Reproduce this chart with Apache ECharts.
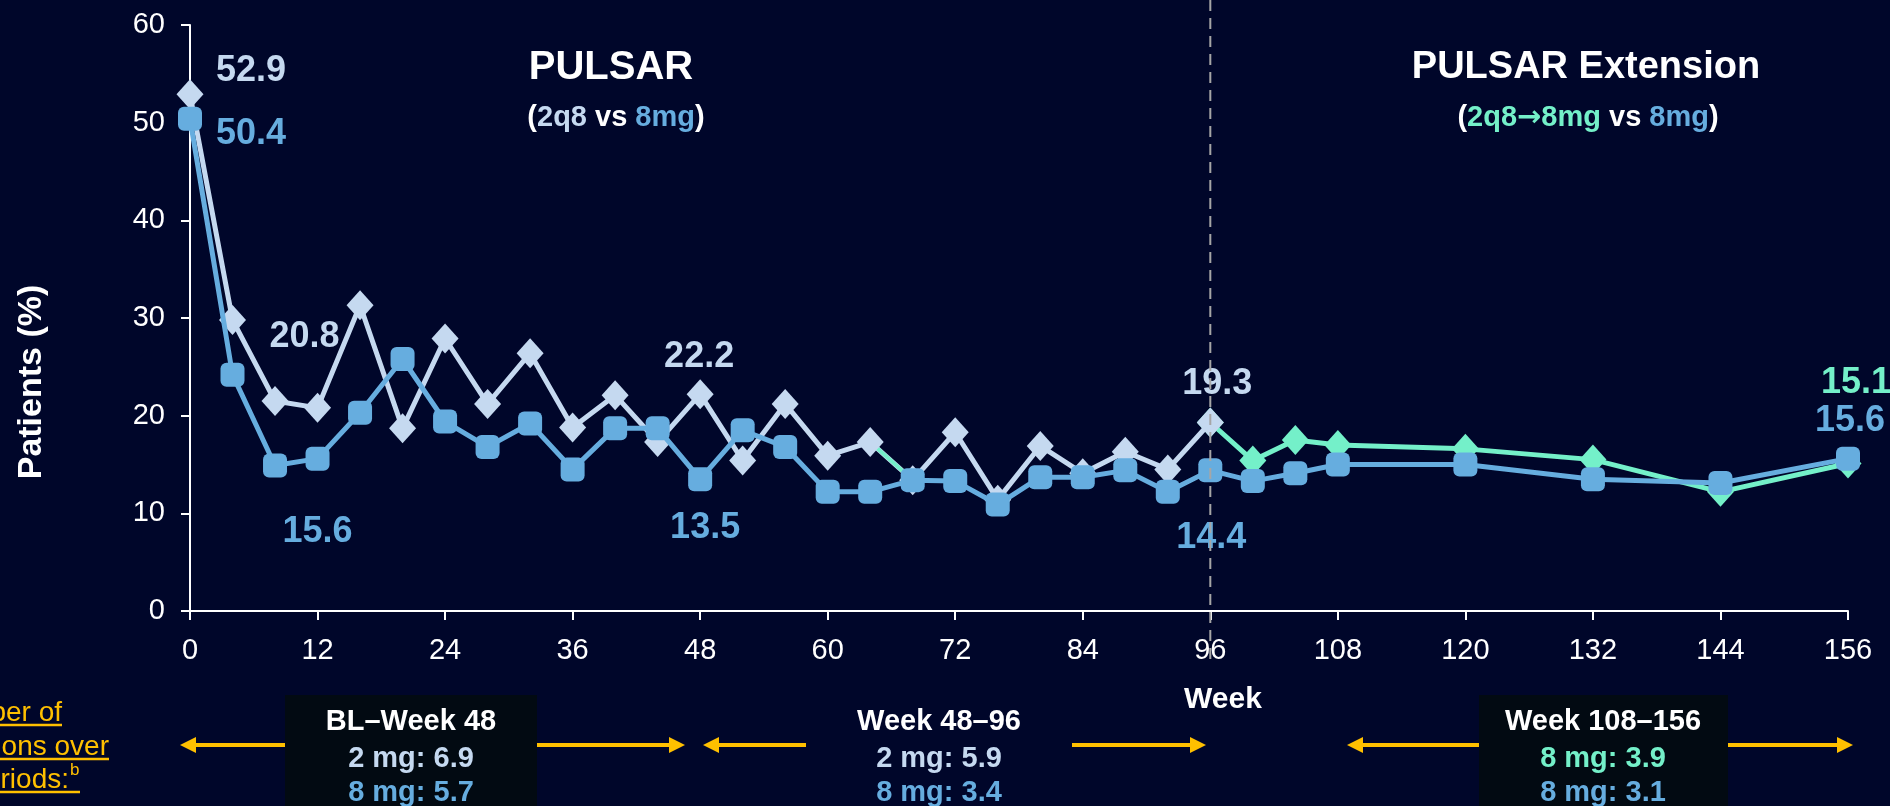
<!DOCTYPE html>
<html>
<head>
<meta charset="utf-8">
<script src="https://cdn.jsdelivr.net/npm/echarts@6/dist/echarts.min.js"></script>
<style>
  html, body { margin: 0; padding: 0; background: #00062a; }
  #chart { width: 1890px; height: 806px; }
</style>
</head>
<body>
<div id="chart"></div>
<script>
// ---- data ----
const weeksPulsar = [0, 4, 8, 12, 16, 20, 24, 28, 32, 36, 40, 44, 48, 52, 56, 60, 64, 68, 72, 76, 80, 84, 88, 92, 96];
const val2q8 = [52.9, 29.8, 21.5, 20.8, 31.3, 18.7, 27.9, 21.2, 26.4, 18.8, 22.1, 17.3, 22.2, 15.4, 21.2, 15.9, 17.3, 13.4, 18.3, 11.4, 16.9, 14.1, 16.3, 14.5, 19.3];

const weeks8mg = [0, 4, 8, 12, 16, 20, 24, 28, 32, 36, 40, 44, 48, 52, 56, 60, 64, 68, 72, 76, 80, 84, 88, 92, 96, 100, 104, 108, 120, 132, 144, 156];
const val8mg = [50.4, 24.2, 14.9, 15.6, 20.3, 25.8, 19.4, 16.8, 19.2, 14.5, 18.7, 18.7, 13.5, 18.5, 16.8, 12.2, 12.2, 13.4, 13.3, 10.9, 13.7, 13.7, 14.4, 12.2, 14.4, 13.3, 14.1, 15.0, 15.0, 13.5, 13.1, 15.6];

const weeksExt = [96, 100, 104, 108, 120, 132, 144, 156];
const val2q8to8 = [19.3, 15.4, 17.5, 17.0, 16.6, 15.5, 12.2, 15.1];

// short green segment visible between week 64 and 68
const weeksStub = [64, 68];
const valStub = [17.3, 13.4];

const xTicks = { min: 0, max: 156, step: 12 };
const yTicks = { min: 0, max: 60, step: 10 };

// colours
const C_BG = '#00062a';
const C_2Q8 = '#c5d9f0';
const C_8MG = '#66addf';
const C_EXT = '#74f0c9';
const C_YEL = '#ffc000';
const C_BOX = '#020a12';
const FONT = '"Liberation Sans", Arial, sans-serif';

// which points carry a value label, and where the label sits (px offset from point)
const labels2q8 = { 0: [61, -23], 12: [-13, -71], 48: [-1, -37], 96: [7, -38] };
const labels8mg = { 0: [61, 15], 12: [0, 73], 48: [5, 49], 96: [1, 68], 156: [2, -38] };
const labelsExt = { 156: [8, -80] };

const buildData = (weeks, vals, labelMap, color) => weeks.map((w, i) => {
  const item = { value: [w, vals[i]] };
  if (labelMap && labelMap[w]) {
    item.label = {
      show: true,
      position: 'inside',
      offset: labelMap[w],
      formatter: p => p.value[1].toFixed(1),
      color: color,
      fontSize: 36,
      fontWeight: 'bold',
      fontFamily: FONT
    };
  }
  return item;
});

const chart = echarts.init(document.getElementById('chart'));

const option = {
  backgroundColor: C_BG,
  animation: false,
  grid: { left: 190, right: 42, top: 25, bottom: 195 },
  xAxis: {
    type: 'value',
    min: xTicks.min,
    max: xTicks.max,
    interval: xTicks.step,
    axisLine: { show: true, lineStyle: { color: '#ffffff', width: 2 } },
    axisTick: { show: true, length: 9, lineStyle: { color: '#ffffff', width: 2 } },
    axisLabel: { color: '#ffffff', fontSize: 29, fontFamily: FONT, margin: 25 },
    splitLine: { show: false }
  },
  yAxis: {
    type: 'value',
    min: yTicks.min,
    max: yTicks.max,
    interval: yTicks.step,
    axisLine: { show: true, lineStyle: { color: '#ffffff', width: 2 } },
    axisTick: { show: true, length: 9, lineStyle: { color: '#ffffff', width: 2 } },
    axisLabel: { color: '#ffffff', fontSize: 29, fontFamily: FONT, margin: 25 },
    splitLine: { show: false }
  },
  series: [
    {
      // 2q8 -> 8mg extension
      name: '2q8→8mg',
      type: 'line',
      z: 1,
      silent: true,
      data: buildData(weeksExt, val2q8to8, labelsExt, C_EXT),
      lineStyle: { color: C_EXT, width: 5 },
      itemStyle: { color: C_EXT },
      symbol: 'diamond',
      symbolSize: [27, 30],
      showAllSymbol: true
    },
    {
      // 2q8 line only
      name: '2q8 line',
      type: 'line',
      z: 2,
      silent: true,
      data: buildData(weeksPulsar, val2q8),
      lineStyle: { color: C_2Q8, width: 5 },
      showSymbol: false
    },
    {
      name: 'stub',
      type: 'line',
      z: 3,
      silent: true,
      data: buildData(weeksStub, valStub),
      lineStyle: { color: C_EXT, width: 4 },
      showSymbol: false
    },
    {
      // 2q8 markers + labels
      name: '2q8',
      type: 'scatter',
      z: 4,
      silent: true,
      data: buildData(weeksPulsar, val2q8, labels2q8, C_2Q8),
      symbol: 'diamond',
      symbolSize: [27, 30],
      itemStyle: { color: C_2Q8, opacity: 1 }
    },
    {
      name: '8mg',
      type: 'line',
      z: 5,
      silent: true,
      data: buildData(weeks8mg, val8mg, labels8mg, C_8MG),
      lineStyle: { color: C_8MG, width: 5 },
      itemStyle: { color: C_8MG },
      symbol: 'roundRect',
      symbolSize: 24,
      showAllSymbol: true
    }
  ]
};

chart.setOption(option);

// ---- annotations ----
const x96 = chart.convertToPixel({ xAxisIndex: 0 }, 96);

const text = (t, x, y, size, color, extra) => ({
  type: 'text',
  z: 50,
  silent: true,
  style: Object.assign({
    text: t, x: x, y: y,
    fill: color,
    fontSize: size,
    fontWeight: 'bold',
    fontFamily: FONT,
    align: 'center',
    verticalAlign: 'middle'
  }, extra || {})
});

const hline = (x1, x2, y, color, w) => ({
  type: 'line', z: 45, silent: true,
  shape: { x1: x1, y1: y, x2: x2, y2: y },
  style: { stroke: color, lineWidth: w }
});

const arrowHead = (tipX, y, dir) => ({
  type: 'polygon', z: 40, silent: true,
  shape: { points: [[tipX, y], [tipX - dir * 16, y - 8], [tipX - dir * 16, y + 8]] },
  style: { fill: C_YEL }
});

const doubleArrow = (x1, x2, y) => [
  hline(x1 + 10, x2 - 10, y, C_YEL, 4),
  arrowHead(x1, y, -1),
  arrowHead(x2, y, 1)
];

const box = (x1, x2, fill) => ({
  type: 'rect', z: 46, silent: true,
  shape: { x: x1, y: 695, width: x2 - x1, height: 120 },
  style: { fill: fill }
});

const rs = (fill, family) => ({ fill: fill, fontSize: 29, fontWeight: 'bold', fontFamily: family || FONT });
const richSub = {
  w: rs('#ffffff'),
  l: rs(C_2Q8),
  b: rs(C_8MG),
  g: rs(C_EXT),
  a: rs(C_EXT, '"DejaVu Sans", sans-serif')
};

const graphics = [
  // dashed divider at week 96
  {
    type: 'line', z: 100, silent: true,
    shape: { x1: x96, y1: 0, x2: x96, y2: 662 },
    style: { stroke: '#a6a6a6', lineWidth: 2, lineDash: [11, 7] }
  },
  text('PULSAR', 611, 68, 40, '#ffffff'),
  text('{w|(}{l|2q8} {w|vs} {b|8mg}{w|)}', 616, 118, 29, '#ffffff', { rich: richSub }),
  text('PULSAR Extension', 1586, 68, 38, '#ffffff'),
  text('{w|(}{g|2q8}{a|→}{g|8mg} {w|vs} {b|8mg}{w|)}', 1588, 118, 29, '#ffffff', { rich: richSub }),
  Object.assign(text('Patients (%)', 0, 0, 34, '#ffffff'), { x: 32, y: 382, rotation: Math.PI / 2 }),
  text('Week', 1223, 700, 30, '#ffffff'),

  // yellow side note (cut at the left edge)
  text('Mean number of', 62, 713, 28, C_YEL, { align: 'right', fontWeight: 'normal' }),
  text('injections over', 109, 747, 28, C_YEL, { align: 'right', fontWeight: 'normal' }),
  text('periods:', 69, 780, 28, C_YEL, { align: 'right', fontWeight: 'normal' }),
  text('b', 70, 770, 17, C_YEL, { align: 'left', fontWeight: 'normal' }),
  hline(0, 62, 725, C_YEL, 2.5),
  hline(0, 109, 759, C_YEL, 2.5),
  hline(0, 80, 792, C_YEL, 2.5),

  // arrows
  ...doubleArrow(180, 685, 745),
  ...doubleArrow(703, 1206, 745),
  ...doubleArrow(1347, 1853, 745),

  // boxes
  box(285, 537, C_BOX),
  box(806, 1072, C_BG),
  box(1479, 1728, C_BOX),

  text('BL–Week 48', 411, 722, 29, '#ffffff'),
  hline(325, 496, 737, '#ffffff', 3),
  text('2 mg: 6.9', 411, 759, 29, C_2Q8),
  text('8 mg: 5.7', 411, 793, 29, C_8MG),

  text('Week 48–96', 939, 722, 29, '#ffffff'),
  hline(857, 1022, 737, '#ffffff', 3),
  text('2 mg: 5.9', 939, 759, 29, C_2Q8),
  text('8 mg: 3.4', 939, 793, 29, C_8MG),

  text('Week 108–156', 1603, 722, 29, '#ffffff'),
  hline(1504, 1702, 737, '#ffffff', 3),
  text('8 mg: 3.9', 1603, 759, 29, C_EXT),
  text('8 mg: 3.1', 1603, 793, 29, C_8MG)
];

chart.setOption({ graphic: graphics });
</script>
</body>
</html>
